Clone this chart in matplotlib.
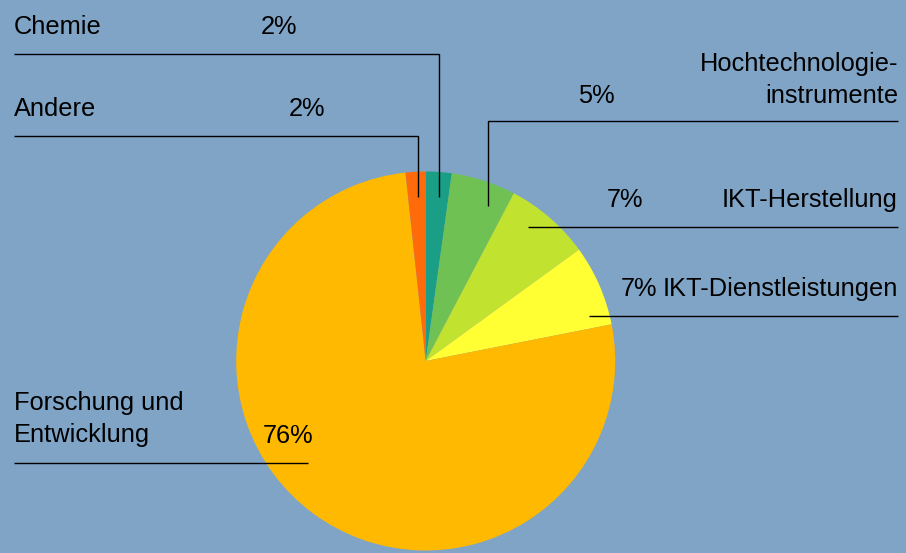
import matplotlib
matplotlib.use('Agg')
import matplotlib.pyplot as plt

# data (clockwise from 12 o'clock)
sectors = ['Chemie', 'Hochtechnologie-\ninstrumente', 'IKT-Herstellung',
           'IKT-Dienstleistungen', 'Forschung und\nEntwicklung', 'Andere']
shares = [2.2, 5.5, 7.3, 6.9, 76.4, 1.7]
pct_labels = ['2%', '5%', '7%', '7%', '76%', '2%']
colors = ['#1A9E85', '#70C154', '#C2E230', '#FFFF33', '#FFB900', '#FF6A0A']

BG = '#80A4C6'
W, H = 906, 553


def Y(y):
    # pixel row (from top) -> axes y
    return H - y


fig = plt.figure(figsize=(9.06, 5.53), dpi=100)
fig.patch.set_facecolor(BG)
ax = fig.add_axes([0, 0, 1, 1])
ax.set_facecolor(BG)

ax.pie(shares, colors=colors, startangle=90, counterclock=False,
       center=(425.7, Y(361)), radius=189.5, frame=True,
       wedgeprops=dict(linewidth=0))
ax.set_xlim(0, W)
ax.set_ylim(0, H)
ax.set_aspect('equal')
ax.axis('off')

plt.rcParams['font.family'] = ['Liberation Sans', 'DejaVu Sans']
fs = 18.3
lw = 1.0

# leader lines (layout only)
leaders = [
    [(14, 54), (439, 54), (439, 197)],      # Chemie
    [(898, 121), (488, 121), (488, 206)],   # Hochtechnologieinstrumente
    [(898, 227), (528, 227)],               # IKT-Herstellung
    [(898, 316), (589, 316)],               # IKT-Dienstleistungen
    [(14, 463), (308, 463)],                # Forschung und Entwicklung
    [(14, 136), (418, 136), (418, 197)],    # Andere
]
for pts in leaders:
    xs = [p[0] for p in pts]
    ys = [Y(p[1]) for p in pts]
    ax.plot(xs, ys, color='black', linewidth=lw, solid_capstyle='butt')

# category names
name_pos = [
    (14, 27, 'left'),
    (898, 80, 'right'),
    (898, 200, 'right'),
    (898, 289, 'right'),
    (14, 419, 'left'),
    (14, 109, 'left'),
]
for name, (x, y, ha) in zip(sectors, name_pos):
    ax.text(x, Y(y), name, ha=ha, va='center', fontsize=fs,
            linespacing=1.4, color='black')

# percentage labels
pct_pos = [(279, 27), (596, 96), (625, 200), (639, 289), (288, 436), (307, 109)]
for lab, (x, y) in zip(pct_labels, pct_pos):
    ax.text(x, Y(y), lab, ha='center', va='center', fontsize=fs, color='black')

fig.savefig('out.png', dpi=100, facecolor=BG)
